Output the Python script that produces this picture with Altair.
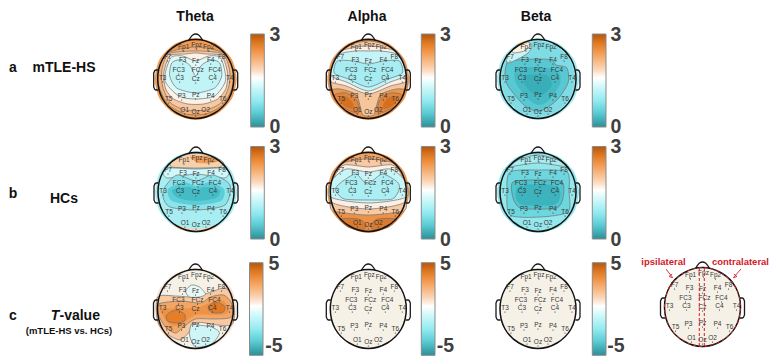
import altair as alt
import pandas as pd

W, H = 762, 348
X = alt.Scale(domain=[8, 770], zero=False, nice=False)
Y = alt.Scale(domain=[8, 356], zero=False, nice=False, reverse=True)

# head centres (image pixels)
CENTERS = {
    "ta": (195.7, 79), "aa": (368.3, 79), "ba": (538, 79),
    "tb": (196, 192), "ab": (368.3, 192), "bb": (538, 192),
    "tc": (195.5, 309), "ac": (368.3, 309), "bc": (538, 309), "xc": (702.5, 307),
}

DISC = [(-41, 0), (-36, -20), (-21, -35), (0, -41), (21, -35), (36, -20), (41, 0), (36, 20), (21, 35), (0, 41), (-21, 35), (-36, 20)]
HEAD = [(-38, 0), (-33, -20), (-19, -34), (0, -39.5), (19, -34), (33, -20), (38, 0), (33, 20), (19, 34), (0, 39.5), (-19, 34), (-33, 20)]
BEIGE = "#F6F1E7"
LINE = "#707070"
NO = "transparent"

# polygons per head: (fill, contour stroke, vertices)
POLYS = {
    "ta": [
        ("#F09A52", NO, DISC),
        ("#F5B27A", LINE, [(-28, -26), (0, -32), (28, -26), (38, -8), (36, 10), (27, 26), (10, 35), (-10, 35), (-27, 26), (-36, 10), (-38, -8)]),
        ("#F8C9A0", LINE, [(-27, -25), (0, -28), (27, -25), (34, -8), (33, 8), (25, 24), (10, 31), (-10, 31), (-25, 24), (-33, 8), (-34, -8)]),
        ("#FDF0E4", LINE, [(-26, -23), (-10, -25), (0, -26), (10, -25), (26, -23), (32, -5), (30, 10), (22, 20), (8, 25), (-8, 25), (-22, 20), (-30, 10), (-32, -5)]),
        ("#DDF9FA", LINE, [(-25, -21), (-13, -23), (0, -18), (13, -23), (25, -21), (30, 1), (19, 17), (0, 20), (-17, 17), (-31, 1)]),
        ("#C0F4F7", LINE, [(-24, -16), (-16, -19), (-6, -14), (0, -3), (6, -14), (16, -19), (24, -16), (26, -3), (19, 9), (0, 14), (-19, 9), (-26, -3)]),
    ],
    "aa": [
        ("#EE9650", NO, DISC),
        ("#F7C59A", LINE, [(-39, 4), (-34, -20), (-21, -33), (0, -38), (21, -33), (34, -20), (39, 4), (37, 10), (28, 10), (12, 16), (6, 35), (0, 37), (-6, 35), (-12, 16), (-28, 10), (-37, 10)]),
        ("#E2843A", LINE, [(-34, 16), (-22, 14), (-11, 22), (-10, 34), (-20, 31), (-30, 25)]),
        ("#E2843A", LINE, [(34, 16), (22, 14), (11, 22), (10, 34), (20, 31), (30, 25)]),
        ("#D4701F", NO, [(-29, 20), (-21, 18), (-15, 25), (-16, 30), (-24, 27)]),
        ("#D4701F", NO, [(29, 20), (21, 18), (15, 25), (16, 30), (24, 27)]),
        ("#FCEEE2", LINE, [(-38, -5), (-29, -27), (0, -33), (29, -27), (38, -5), (37, 3), (22, 7), (0, 15), (-22, 7), (-37, 3)]),
        ("#C4F4F7", LINE, [(-37, -12), (-28, -25), (-12, -28), (0, -28), (12, -28), (28, -25), (37, -12), (37, -3), (22, 3), (0, 12), (-22, 3), (-37, -3)]),
        ("#A5EDF2", LINE, [(-31, -18), (-15, -18), (0, -15), (15, -18), (31, -18), (34, -6), (20, 0), (0, 8), (-20, 0), (-34, -6)]),
    ],
    "ba": [
        ("#A6ECF1", NO, DISC),
        ("#7FDCE4", NO, [(-37, 0), (-32, -19), (-18, -33), (0, -38), (18, -33), (32, -19), (37, 0), (32, 19), (18, 33), (0, 38), (-18, 33), (-32, 19)]),
        ("#58C8D2", LINE, [(-21, -19), (-1, -20), (14, -19), (18, -14), (29, -11), (30, 4), (19, 21), (2, 32), (-13, 27), (-30, 7), (-33, -6), (-30, -18)]),
        ("#46BAC4", NO, [(-22, -10), (0, -12), (20, -8), (22, 5), (10, 22), (0, 26), (-10, 20), (-22, 4)]),
        ("#3AAEB8", NO, [(-12, -4), (8, -4), (14, 6), (4, 16), (-6, 14), (-14, 4)]),
        ("#C8F3F5", LINE, [(-32, -22), (-26, -29), (-20, -34), (-10, -37), (-6, -33), (-10, -26), (-20, -20), (-30, -16)]),
        ("#FCF0E0", LINE, [(-26, -29), (-20, -34), (-10, -37), (-8, -33), (-14, -28), (-24, -26)]),
        ("#F4BE90", NO, [(-21, -35), (-12, -38), (-10, -36), (-18, -33)]),
    ],
    "tb": [
        ("#A8EDF2", NO, DISC),
        ("#F7D0AC", LINE, [(-25, -30), (-14, -36), (0, -39), (16, -36), (27, -30), (24, -25), (5, -24), (-5, -24), (-24, -25)]),
        ("#EF9D58", NO, [(-6, -35), (12, -36), (22, -31), (15, -29), (3, -29)]),
        ("#F9D5B5", NO, [(-22, 33), (0, 37), (22, 33), (15, 38), (0, 40), (-15, 38)]),
        ("#D0F7F9", LINE, [(-33, -20), (-26, -24), (0, -23), (26, -24), (33, -20), (28, -14), (0, -18), (-28, -14)]),
        ("#8CE4EB", LINE, [(-31, -5), (-19, -17), (0, -11), (17, -17), (34, -7), (29, 13), (1, 18), (-26, 15), (-33, 5)]),
        ("#5CCDD6", NO, [(-28, -3), (-12, -10), (0, -6), (14, -10), (28, -3), (25, 9), (0, 13), (-24, 9)]),
        ("#44BCC6", NO, [(-24, -2), (-8, -5), (0, -3), (10, -5), (24, -2), (20, 6), (0, 9), (-18, 6)]),
    ],
    "ab": [
        ("#EC9148", NO, DISC),
        ("#F0A565", NO, [(-22, -34), (0, -40), (22, -34), (12, -31), (0, -30), (-12, -31)]),
        ("#F8C9A2", LINE, [(-38, 15), (-35, -16), (-25, -29), (0, -33), (25, -29), (35, -16), (38, 15), (30, 20), (0, 23), (-30, 20)]),
        ("#FDEFE3", LINE, [(-38, 8), (-34, -15), (-24, -27), (0, -25), (24, -27), (34, -15), (38, 8), (25, 14), (0, 17), (-25, 14)]),
        ("#C7F5F8", LINE, [(-39, 4), (-36, -12), (-22, -23), (0, -20), (22, -23), (36, -12), (39, 4), (22, 9), (0, 11), (-22, 9)]),
        ("#ABEEF3", LINE, [(-32, -5), (-24, -12), (-12, -18), (-1, -8), (14, -18), (29, -10), (31, -3), (24, 7), (0, 8), (-24, 7), (-32, 0)]),
        ("#DB7A2E", LINE, [(-28, 27), (-10, 27), (-2, 33), (-6, 38), (-20, 35)]),
        ("#DB7A2E", LINE, [(28, 27), (10, 27), (2, 33), (6, 38), (20, 35)]),
    ],
    "bb": [
        ("#93E7ED", NO, DISC),
        ("#A9EDF2", LINE, [(-32, -22), (-20, -32), (0, -37), (20, -32), (32, -22), (28, -25), (0, -29), (-28, -25)]),
        ("#6DD7DF", LINE, [(-28, -20), (0, -22), (29, -20), (31, 0), (30, 20), (2, 25), (-28, 23), (-31, 0)]),
        ("#4FC5CE", LINE, [(-25, -10), (0, -12), (24, -10), (25, 6), (19, 16), (0, 17), (-18, 16), (-25, 6)]),
        ("#3DB3BD", NO, [(-20, -5), (0, -8), (20, -5), (22, 6), (15, 13), (-15, 13), (-22, 6)]),
    ],
    "tc": [
        ("#F9E4D2", NO, DISC),
        (BEIGE, NO, HEAD),
        ("#F8C8A0", LINE, [(-38, -12), (-20, -13), (0, -12), (18, -18), (29, -21), (36, -15), (39, 5), (36, 16), (22, 16), (10, 14), (0, 14), (-8, 25), (-16, 31), (-30, 24), (-38, 12)]),
        ("#F2A564", LINE, [(-37, -5), (-15, -8), (5, -6), (15, -12), (28, -14), (36, -6), (36, 8), (20, 10), (0, 10), (-12, 18), (-20, 24), (-30, 18), (-37, 6)]),
        ("#EE9345", NO, [(-33, 0), (0, -1), (14, -6), (28, -8), (33, 2), (25, 6), (0, 6), (-15, 16), (-25, 16), (-33, 6)]),
        ("#E67E28", LINE, [(-29, 6), (-20, 1), (-11, 5), (-11, 12), (-20, 14), (-28, 12)]),
        ("#E27A25", LINE, [(13, -3), (20, -7), (29, -3), (28, 3), (20, 4), (14, 2)]),
        ("#E5F8F5", LINE, [(-10, -18), (-4, -24), (4, -22), (10, -15), (4, -12), (-6, -12)]),
        ("#CFF6F7", LINE, [(-4, 15), (2, 16), (16, 18), (24, 24), (16, 35), (0, 38), (-6, 26)]),
    ],
    "ac": [(BEIGE, NO, HEAD)],
    "bc": [(BEIGE, NO, HEAD)],
    "xc": [(BEIGE, NO, HEAD)],
}

NOSE = [(-7, -38.5), (-3, -44), (0, -45), (3, -44), (7, -38.5)]
EAR_L = [(-37.5, -9), (-40, -9), (-42, -6), (-42, 8), (-40, 11), (-37.5, 11)]
EAR_R = [(37.5, -9), (40, -9), (42, -6), (42, 8), (40, 11), (37.5, 11)]

LABELS = ["Fp1", "Fpz", "Fp2", "F7", "F3", "Fz", "F4", "F8", "FC3", "FCz", "FC4", "T3", "C3", "Cz", "C4", "T4", "T5", "P3", "Pz", "P4", "T6", "O1", "Oz", "O2"]
LAB_X = [-12, 1, 13, -28, -13, 0, 15, 26, -17, 2, 19, -33, -16, 0, 17, 34, -27, -14, 0, 15, 27, -11, 0, 10]
LAB_Y = [-32, -34, -32, -22, -19, -18, -19, -22, -9, -9, -9, -1, -1, 0, -1, -1, 20, 17, 16, 17, 20, 31, 33, 31]

BARS = [
    (250.7, 264.3, 34, 127, "3", "0", 275, 35, 127),
    (421.3, 435, 34, 127, "3", "0", 445.5, 35, 127),
    (592.3, 606, 34, 127, "3", "0", 616, 35, 127),
    (250.7, 264.3, 146.5, 239, "3", "0", 275, 147, 240),
    (421.3, 435, 146.5, 239, "3", "0", 445.5, 147, 240),
    (592.3, 606, 146.5, 239, "3", "0", 616, 147, 240),
    (249.5, 263, 262.7, 355.3, "5", "-5", 274, 264, 345.5),
    (421.3, 435, 262.7, 355.3, "5", "-5", 445.5, 264, 345.5),
    (592.3, 606, 262.7, 355.3, "5", "-5", 616, 264, 345.5),
]
BAR_STOPS = [(0, "#B5560F"), (0.1, "#E07A22"), (0.2, "#F39A50"), (0.38, "#FBD7B8"), (0.47, "#FFFFFF"), (0.55, "#D8FAFB"), (0.72, "#90EAF0"), (0.85, "#5CCBD3"), (1, "#2A8F98")]

BOLD_TITLES = [("Theta", 195, 17), ("Alpha", 367, 17), ("Beta", 536, 17), ("mTLE-HS", 64, 68), ("HCs", 64, 199), ("a", 13, 68), ("b", 13, 194), ("c", 13, 316)]

rows, lines = [], []
pid = 0
for head, polys in POLYS.items():
    cx, cy = CENTERS[head]
    for fill, stroke, pts in polys:
        pid += 1
        for i, (dx, dy) in enumerate(pts):
            rows.append({"id": pid, "i": i, "x": cx + dx, "y": cy + dy, "fillc": fill, "strokec": stroke})
    for name, pts, closed in [("nose", NOSE, False), ("l", EAR_L, False), ("r", EAR_R, False), ("head", HEAD, True)]:
        pid += 1
        for i, (dx, dy) in enumerate(pts):
            lines.append({"id": pid, "i": i, "x": cx + dx, "y": cy + dy, "kind": "closed" if closed else "open"})

poly_df = pd.DataFrame(rows)
line_df = pd.DataFrame(lines)

def xy():
    return dict(x=alt.X("x:Q", scale=X, axis=None), y=alt.Y("y:Q", scale=Y, axis=None))

layers = []
for pid_, g in poly_df.groupby("id", sort=True):
    layers.append(alt.Chart(g).mark_line(interpolate="cardinal-closed", tension=0.25, fill=g["fillc"].iloc[0], stroke=g["strokec"].iloc[0], strokeWidth=0.7).encode(order="i:Q", **xy()))

layers.append(alt.Chart(line_df[line_df.kind == "open"]).mark_line(interpolate="monotone", stroke="#1a1a1a", strokeWidth=1.3).encode(detail="id:N", order="i:Q", **xy()))
layers.append(alt.Chart(line_df[line_df.kind == "closed"]).mark_line(interpolate="cardinal-closed", stroke="#111111", strokeWidth=1.5).encode(detail="id:N", order="i:Q", **xy()))

# electrode labels and dots
lab = []
for head, (cx, cy) in CENTERS.items():
    for t, dx, dy in zip(LABELS, LAB_X, LAB_Y):
        lab.append({"t": t, "x": cx + dx, "y": cy + dy})
lab_df = pd.DataFrame(lab)
layers.append(alt.Chart(lab_df).mark_text(font="Liberation Sans", fontSize=6.5, color="#383838", baseline="middle").encode(text="t:N", **xy()))
dot_df = lab_df.assign(y=lab_df.y + 4)
layers.append(alt.Chart(dot_df).mark_point(filled=True, size=1.2, color="#222222", opacity=1).encode(**xy()))

# colour bars
grad = alt.Gradient(gradient="linear", stops=[alt.GradientStop(offset=o, color=c) for o, c in BAR_STOPS], x1=0, x2=0, y1=0, y2=1)
bar_df = pd.DataFrame(BARS, columns=["x0", "x1", "y0", "y1", "hi", "lo", "tx", "ty0", "ty1"])
layers.append(alt.Chart(bar_df).mark_rect(fill=grad, stroke="#8a8a8a", strokeWidth=1).encode(
    x=alt.X("x0:Q", scale=X, axis=None), x2="x1:Q", y=alt.Y("y0:Q", scale=Y, axis=None), y2=alt.Y2("y1:Q")))
layers.append(alt.Chart(bar_df).mark_text(font="Liberation Sans", fontWeight="bold", fontSize=19.5, color="#404040", baseline="middle").encode(
    text="hi:N", x=alt.X("tx:Q", scale=X, axis=None), y=alt.Y("ty0:Q", scale=Y, axis=None)))
layers.append(alt.Chart(bar_df).mark_text(font="Liberation Sans", fontWeight="bold", fontSize=19.5, color="#404040", baseline="middle").encode(
    text="lo:N", x=alt.X("tx:Q", scale=X, axis=None), y=alt.Y("ty1:Q", scale=Y, axis=None)))

# bold titles
tt = pd.DataFrame(BOLD_TITLES, columns=["t", "x", "y"])
layers.append(alt.Chart(tt).mark_text(font="Liberation Sans", fontWeight="bold", fontSize=14, color="#111111", baseline="middle").encode(text="t:N", **xy()))
t2 = pd.DataFrame([{"t": "T", "x": 50.7, "y": 316}])
layers.append(alt.Chart(t2).mark_text(font="Liberation Sans", fontWeight="bold", fontStyle="italic", fontSize=14, color="#111111", baseline="middle", align="left").encode(text="t:N", **xy()))
t3 = pd.DataFrame([{"t": "-value", "x": 59.5, "y": 316}])
layers.append(alt.Chart(t3).mark_text(font="Liberation Sans", fontWeight="bold", fontSize=14, color="#111111", baseline="middle", align="left").encode(text="t:N", **xy()))
t4 = pd.DataFrame([{"t": "(mTLE-HS vs. HCs)", "x": 69, "y": 331}])
layers.append(alt.Chart(t4).mark_text(font="Liberation Sans", fontWeight="bold", fontSize=9.5, color="#111111", baseline="middle").encode(text="t:N", **xy()))

# laterality annotation
RED = "#D0202A"
ann = pd.DataFrame([("ipsilateral", 663.5, 262), ("contralateral", 740.5, 262)], columns=["t", "x", "y"])
layers.append(alt.Chart(ann).mark_text(font="Liberation Sans", fontWeight="bold", fontSize=9.5, color=RED, baseline="middle").encode(text="t:N", **xy()))
arrows = pd.DataFrame([
    (1, 0, 666, 269), (1, 1, 672.7, 277.7), (1, 2, 669, 276.5), (1, 1.5, 672.7, 277.7), (1, 3, 672.2, 274),
    (2, 0, 741, 269), (2, 1, 733.3, 277.7), (2, 2, 737, 276.5), (2, 1.5, 733.3, 277.7), (2, 3, 733.8, 274),
], columns=["id", "i", "x", "y"]).sort_values(["id", "i"])
layers.append(alt.Chart(arrows).mark_line(stroke=RED, strokeWidth=0.9).encode(detail="id:N", order="i:Q", **xy()))
cx4, cy4 = CENTERS["xc"]
red_df = pd.DataFrame([{"i": i, "x": cx4 + dx, "y": cy4 + dy} for i, (dx, dy) in enumerate(HEAD)])
layers.append(alt.Chart(red_df).mark_line(interpolate="cardinal-closed", stroke=RED, strokeWidth=1, strokeDash=[3, 3]).encode(order="i:Q", **xy()))
rules = pd.DataFrame([{"x": 699.3, "y": 268, "y2": 346}, {"x": 704.3, "y": 268, "y2": 346}])
layers.append(alt.Chart(rules).mark_rule(stroke=RED, strokeWidth=1, strokeDash=[3, 2]).encode(
    x=alt.X("x:Q", scale=X, axis=None), y=alt.Y("y:Q", scale=Y, axis=None), y2=alt.Y2("y2:Q")))

chart = alt.layer(*layers).properties(width=W, height=H, padding=0, autosize=alt.AutoSizeParams(type="none")).configure_view(stroke=None)
chart.save("out.html", embed_options={"renderer": "svg", "actions": False})
